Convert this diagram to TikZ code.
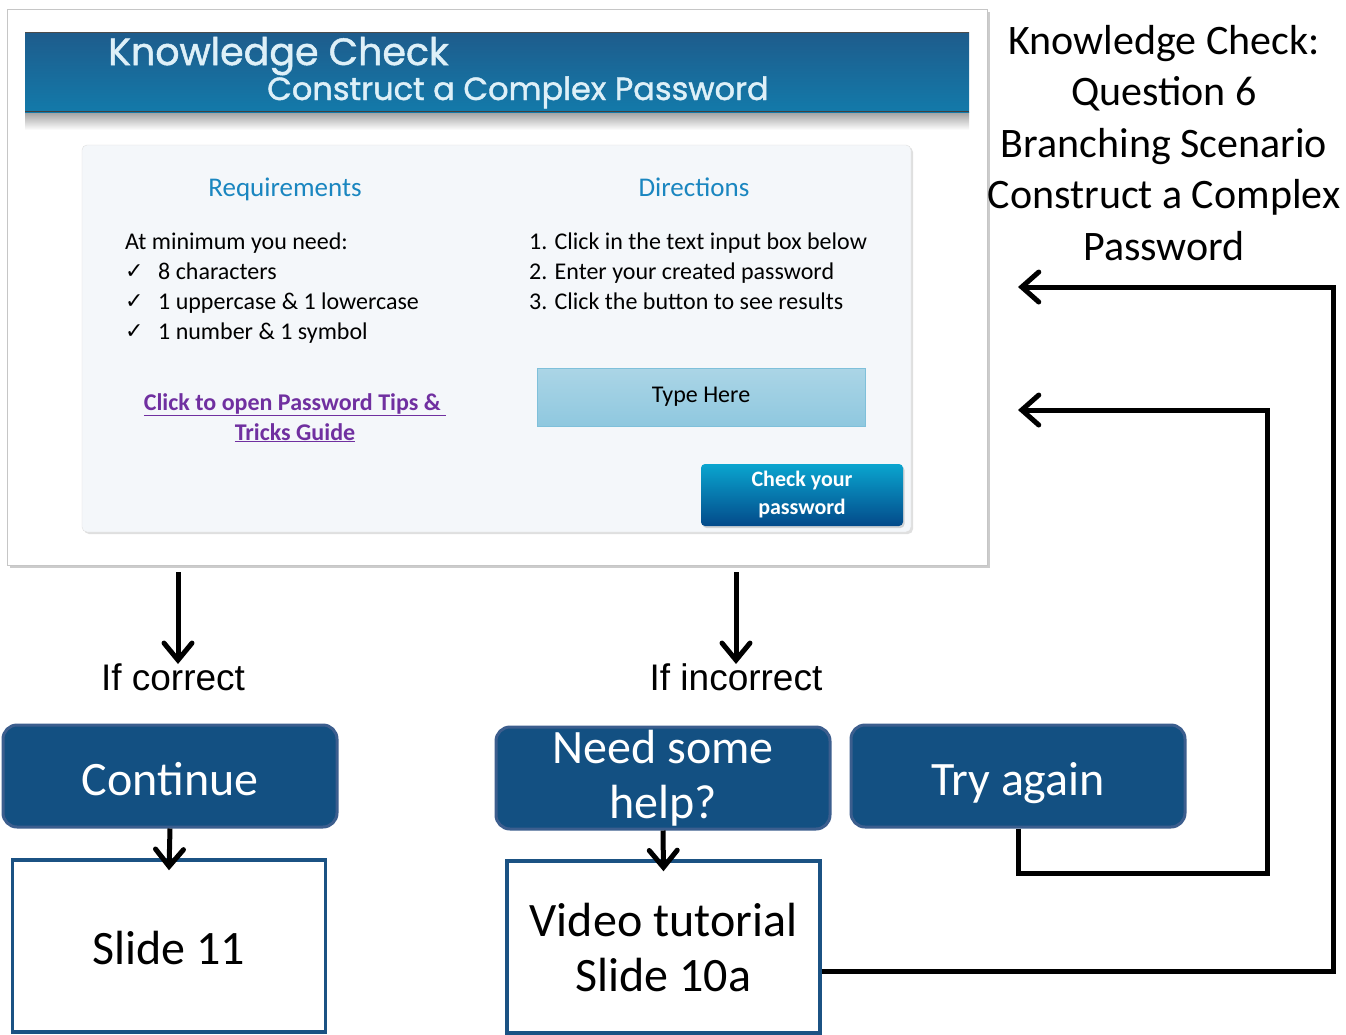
\documentclass[tikz,border=0pt]{standalone}
\usepackage{fontspec}
\setmainfont{Carlito}
\newfontfamily\arialf{Liberation Sans}
\newfontfamily\titlef[FakeBold=1.3]{Poppins}
\newfontfamily\symf{DejaVu Sans}
\usetikzlibrary{arrows.meta,shadows,calc}

\definecolor{barTop}{RGB}{30,92,140}
\definecolor{barBot}{RGB}{19,122,170}
\definecolor{titleTxt}{RGB}{222,240,248}
\definecolor{headBlue}{RGB}{26,134,192}
\definecolor{linkPurple}{RGB}{112,48,160}
\definecolor{boxFill}{RGB}{19,80,130}
\definecolor{boxEdge}{RGB}{60,94,142}
\definecolor{slideEdge}{RGB}{27,82,131}
\definecolor{panelFill}{RGB}{244,247,250}
\definecolor{inputTop}{RGB}{171,213,230}
\definecolor{inputBot}{RGB}{143,200,223}
\definecolor{inputEdge}{RGB}{127,192,218}
\definecolor{btnTop}{RGB}{10,165,207}
\definecolor{btnBot}{RGB}{3,74,138}

\begin{document}
\begin{tikzpicture}[x=1pt,y=-1pt,
  choice/.style={draw=boxEdge, line width=3pt, fill=boxFill, rounded corners=14pt,
    minimum width=334, minimum height=102, text=white, inner sep=0pt,
    font=\fontsize{48}{55}\selectfont, align=center},
  target/.style={draw=slideEdge, line width=3.5pt, fill=white,
    minimum width=313, minimum height=172, inner sep=0pt,
    font=\fontsize{48}{55}\selectfont, align=center},
  oneline/.style={text height=38pt, text depth=0pt},
  flow/.style={line width=5pt, line join=miter,
    -{Straight Barb[length=17pt,width=30pt,line cap=round]}},
  drop/.style={line width=5pt,
    -{Straight Barb[length=17pt,width=28pt,line cap=round]}},
  slidetxt/.style={font=\fontsize{24}{30}\selectfont, anchor=base west, inner sep=0pt},
  tick/.style={font=\symf\fontsize{22}{30}\selectfont, anchor=base west, inner sep=0pt},
  heading/.style={font=\fontsize{27}{30}\selectfont, text=headBlue, anchor=base, inner sep=0pt},
  label/.style={font=\arialf\fontsize{37}{40}\selectfont, inner sep=0pt}
]
\useasboundingbox (0,0) rectangle (1346,1034);

% ---- the quiz slide ----
\node[draw=gray!45, fill=white, minimum width=980, minimum height=556, inner sep=0pt,
  drop shadow={opacity=0.4, shadow xshift=2.5pt, shadow yshift=-2.5pt}] (slide) at (497,287) {};

% title bar with its soft shadow
\shade[top color=gray!75, bottom color=white] (25,112) rectangle (969,130);
\shade[top color=barTop, bottom color=barBot] (25,32) rectangle (969,112);
\draw[black!70, line width=1pt] (25,32) -- (969,32);
\draw[black!75, line width=1.5pt] (25,111.5) -- (969,111.5);
\node[font=\titlef\fontsize{38}{40}\selectfont, text=titleTxt, anchor=base west, inner sep=0pt]
  (kc) at (108,65) {Knowledge Check};
\node[font=\titlef\fontsize{32}{34}\selectfont, text=titleTxt, anchor=base west, inner sep=0pt]
  (ccp) at (267,100) {Construct a Complex Password};

% content panel
\draw[draw=gray!25, fill=panelFill, rounded corners=5pt,
  drop shadow={opacity=0.25, shadow xshift=2pt, shadow yshift=-2pt}] (82,145) rectangle (911,532);

% requirements column
\node[heading] (req) at (285,196) {Requirements};
\node[slidetxt] (need) at (125,249) {At minimum you need:};
\node[tick] (ck1) at (125,278) {✓};
\node[tick] (ck2) at (125,308) {✓};
\node[tick] (ck3) at (125,338) {✓};
\node[slidetxt] (r1t) at (158,279) {8 characters};
\node[slidetxt] (r2t) at (158,309) {1 uppercase \& 1 lowercase};
\node[slidetxt] (r3t) at (158,339) {1 number \& 1 symbol};
\node[font=\bfseries\fontsize{24}{30}\selectfont, text=linkPurple, align=center, anchor=base, inner sep=0pt]
  (link) at (295,440) {\underline{Click to open Password Tips \&\ }\\\underline{Tricks Guide}};

% directions column
\node[heading] (dir) at (694,196) {Directions};
\node[slidetxt] (d1) at (529,249) {1. Click in the text input box below};
\node[slidetxt] (d2) at (529,279) {2. Enter your created password};
\node[slidetxt] (d3) at (529,309) {3. Click the button to see results};

% input field and button
\node[draw=inputEdge, line width=1pt, top color=inputTop, bottom color=inputBot,
  minimum width=328, minimum height=58, inner sep=0pt, font=\fontsize{24}{26}\selectfont]
  (input) at (701,397) {Type Here};
\node[top color=btnTop, bottom color=btnBot, rounded corners=4pt,
  minimum width=202, minimum height=62, inner sep=0pt, text=white, align=center,
  font=\bfseries\fontsize{22}{28}\selectfont,
  drop shadow={opacity=0.3, shadow xshift=1.5pt, shadow yshift=-2pt}]
  (btn) at (802,495) {Check your\\password};

% ---- slide heading on the right ----
\node[align=center, font=\fontsize{42}{51.5}\selectfont, inner sep=0pt]
  (qtitle) at (1164,143) {Knowledge Check:\\Question 6\\Branching Scenario\\Construct a Complex\\Password};

% ---- outcome labels ----
\node[label] (lc) at (173,677) {If correct};
\node[label] (li) at (736,677) {If incorrect};
\coordinate (t1) at (178,664);
\coordinate (t2) at (736,664);
\draw[drop] ($(slide.south -| t1)+(0,7)$) -- (t1);
\draw[drop] ($(slide.south -| t2)+(0,7)$) -- (t2);

% ---- choices ----
\node[choice, oneline] (cont) at (170,776) {Continue};
\node[choice] (help) at (663,778) {Need some\\help?};
\node[choice, oneline] (try) at (1018,776) {Try again};

% ---- destinations ----
\node[target, text height=37pt, text depth=0pt] (s11) at (169,946) {Slide 11};
\node[target] (video) at (663.5,947) {Video tutorial\\Slide 10a};

\draw[drop] (cont.south) -- ($(s11.north)+(0,12)$);
\draw[drop] (help.south) -- ($(video.north)+(0,12)$);

% ---- loops back to the question ----
\coordinate (r1) at (1018,287);
\coordinate (r2) at (1018,410);
\draw[flow] (try.south) |- (1267,873) |- (r2);
\draw[flow] ($(video.east)+(0,24)$) -| (1333,287) -- (r1);
\end{tikzpicture}
\end{document}
